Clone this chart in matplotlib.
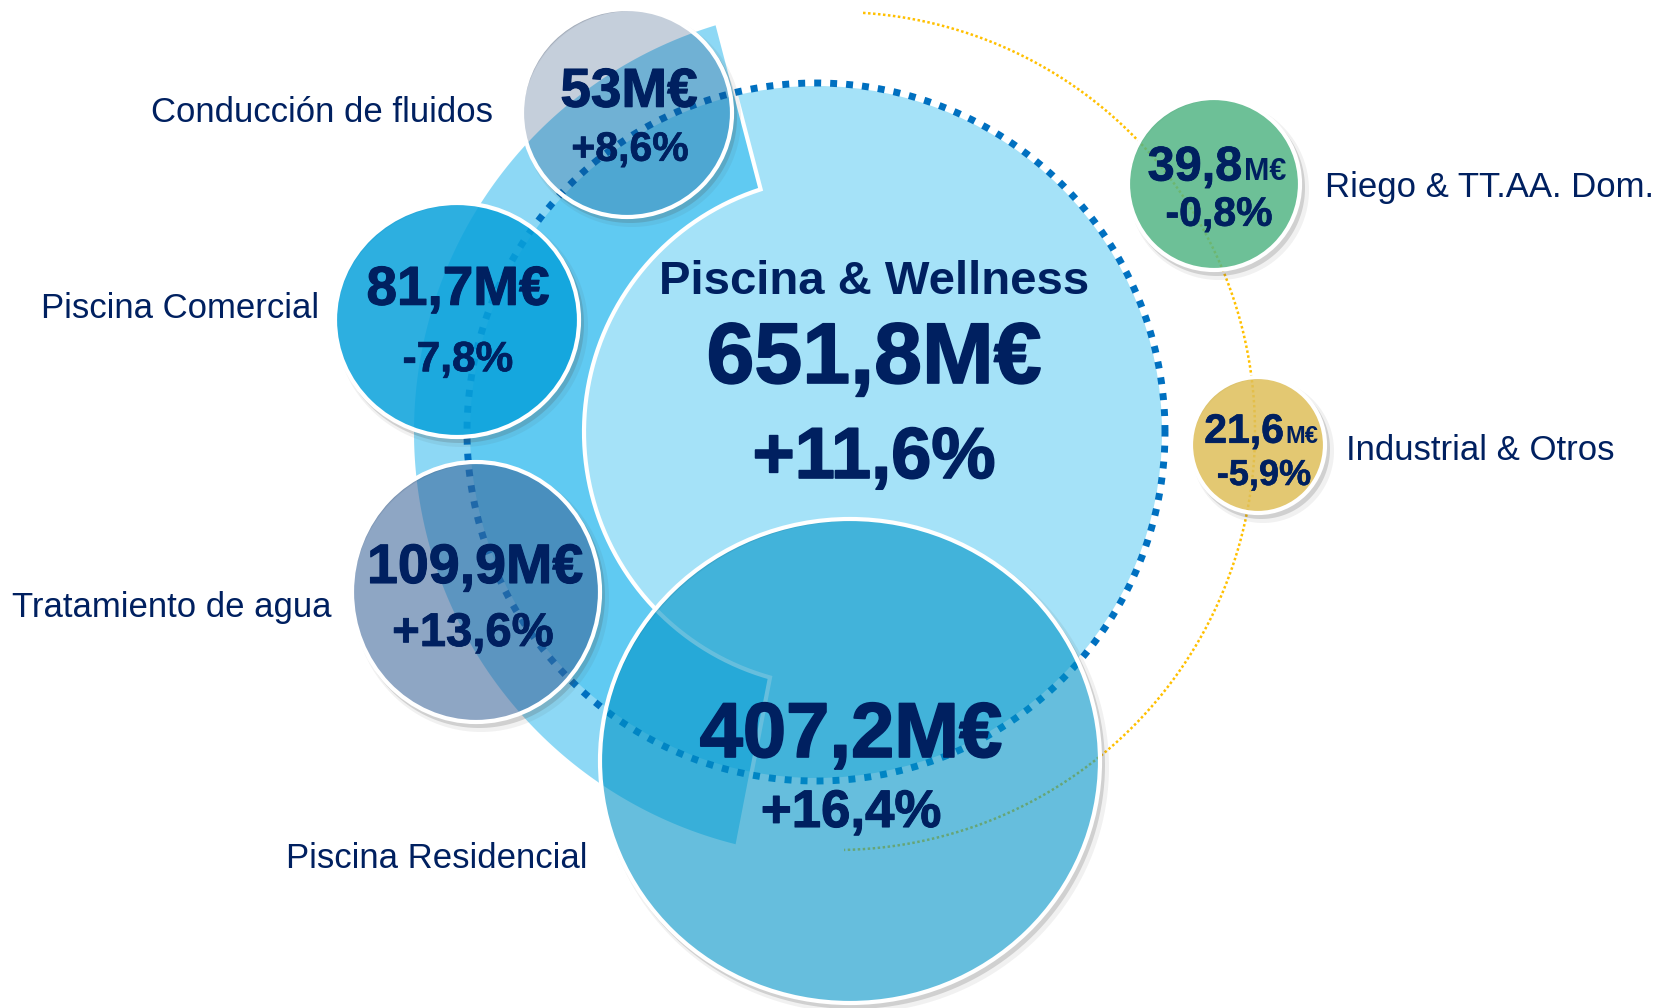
import matplotlib
matplotlib.use("Agg")
import matplotlib.pyplot as plt
import matplotlib.patheffects as pe
import numpy as np
from matplotlib.patches import Circle, Ellipse, Polygon, PathPatch
from matplotlib.path import Path

# Segment data (sales in M€, growth in %)
segments = ["Piscina & Wellness", "Piscina Residencial", "Tratamiento de agua",
            "Piscina Comercial", "Conducción de fluidos",
            "Riego & TT.AA. Dom.", "Industrial & Otros"]
sales = [651.8, 407.2, 109.9, 81.7, 53.0, 39.8, 21.6]
growth = [11.6, 16.4, 13.6, -7.8, 8.6, -0.8, -5.9]

NAVY = "#002060"
FONT = "Liberation Sans"


def fmt_sales(v):
    s = f"{v:.1f}".replace(".", ",")
    return s[:-2] if s.endswith(",0") else s


def fmt_growth(g):
    return f"{g:+.1f}%".replace(".", ",")


def arc(cx, cy, rx, a0, a1, n=400, ry=None):
    # angles in degrees, counter-clockwise on screen (y axis points down)
    ry = rx if ry is None else ry
    t = np.radians(np.linspace(a0, a1, n))
    return cx + rx * np.cos(t), cy - ry * np.sin(t)


def txt(ax, x, yc, s, fs, ha="center", bold=True, stroke=0.0, z=10):
    # yc is the visual middle of the capitals, converted to a baseline
    effects = None
    if stroke > 0:
        effects = [pe.withStroke(linewidth=stroke, foreground=NAVY)]
    ax.text(x, yc + 0.36 * fs / 0.72, s, fontsize=fs, ha=ha, va="baseline",
            color=NAVY, fontweight="bold" if bold else "normal",
            family=FONT, zorder=z, path_effects=effects)


def shadow(ax, cx, cy, rx, ry, z):
    # crescent shaped soft shadow at the lower right of a bubble
    for dx, dy, dr, a in [(5, 6, 4, 0.08), (3, 4, 2, 0.2)]:
        xo, yo = arc(cx + dx, cy + dy, rx + dr, 0, 360, 200, ry + dr)
        xi, yi = arc(cx, cy, rx, 360, 0, 200, ry)
        verts = np.concatenate([np.column_stack([xo, yo]),
                                np.column_stack([xi, yi])])
        codes = ([Path.MOVETO] + [Path.LINETO] * 198 + [Path.CLOSEPOLY]) * 2
        ax.add_patch(PathPatch(Path(verts, codes), fc=(0.3, 0.3, 0.3, a),
                               ec="none", zorder=z))


fig = plt.figure(figsize=(16.55, 10.08), dpi=100)
ax = fig.add_axes([0, 0, 1, 1])
ax.set_xlim(0, 1655)
ax.set_ylim(1008, 0)
ax.axis("off")

# Main light circle with dotted ring
ax.add_patch(Circle((816, 432), 346, fc="#A5E2F8", ec="none", zorder=1))

# Band around the main circle
bc = (839, 432)
xo, yo = arc(bc[0], bc[1], 425, 106.6, 256.2)
xi, yi = arc(bc[0], bc[1], 255, 254.3, 107.9)
band = np.column_stack([np.concatenate([xo, xi]), np.concatenate([yo, yi])])
ax.add_patch(Polygon(band, closed=True, fc=(0.11, 0.70, 0.93, 0.5), ec="none",
                     zorder=2))
ex = np.concatenate([[xo[0]], xi[::-1], [xo[-1]]])
ey = np.concatenate([[yo[0]], yi[::-1], [yo[-1]]])
ax.plot(ex, ey, color="white", lw=3, zorder=3, solid_joinstyle="miter")

x, y = arc(816, 432, 349, 0, 360, 800)
ax.plot(x, y, color="#0070C0", lw=5, linestyle=(0, (1, 1.3)),
        dash_capstyle="butt", zorder=4)

x, y = arc(836, 431, 419, 86.3, -88.9)
ax.plot(x, y, color="#FFC000", lw=1.8, linestyle=(0, (1, 1)), zorder=4)

# Bubble layout: centre, radii (x, y), fill colour (rgba), zorder
bubbles = {
    "Piscina Residencial": ((850, 761), (250, 242), (0.0, 0.58, 0.78, 0.6), 8),
    "Tratamiento de agua": ((476, 592), (124, 130), (0.22, 0.39, 0.595, 0.57), 6),
    "Piscina Comercial": ((457, 320), (122, 117), (0.03, 0.63, 0.86, 0.85), 6),
    "Conducción de fluidos": ((627, 113), (105, 104), (0.1, 0.25, 0.45, 0.25), 6),
    "Riego & TT.AA. Dom.": ((1214, 184), (86, 86), (0.33, 0.71, 0.52, 0.85), 6),
    "Industrial & Otros": ((1258, 445), (67, 68), (0.87, 0.75, 0.35, 0.85), 6),
}
for name, ((cx, cy), (rx, ry), fc, z) in bubbles.items():
    shadow(ax, cx, cy, rx, ry, z - 1)
    ax.add_patch(Ellipse((cx, cy), 2 * rx, 2 * ry, fc=fc, ec="white", lw=3,
                         zorder=z))

v = {name: fmt_sales(s) for name, s in zip(segments, sales)}
g = {name: fmt_growth(p) for name, p in zip(segments, growth)}

# Value labels inside bubbles
txt(ax, 874, 277, segments[0], 34)
txt(ax, 874, 352, v[segments[0]] + "M€", 62, stroke=1.2)
txt(ax, 874, 452, g[segments[0]], 52, stroke=1.2)

txt(ax, 851, 729, v["Piscina Residencial"] + "M€", 56, stroke=1.2)
txt(ax, 851, 808, g["Piscina Residencial"], 38, stroke=0.8)

txt(ax, 475, 563, v["Tratamiento de agua"] + "M€", 40, stroke=0.8)
txt(ax, 473, 629, g["Tratamiento de agua"], 34, stroke=0.6)

txt(ax, 458, 285, v["Piscina Comercial"] + "M€", 39.5, stroke=0.8)
txt(ax, 458, 356, g["Piscina Comercial"], 30.5, stroke=0.5)

txt(ax, 629, 87, v["Conducción de fluidos"] + "M€", 39.5, stroke=0.8)
txt(ax, 630, 146, g["Conducción de fluidos"], 29.5, stroke=0.5)

txt(ax, 1242, 163, v["Riego & TT.AA. Dom."], 35, ha="right", stroke=0.6)
txt(ax, 1244, 163 + 0.36 * 35 / 0.72 - 0.36 * 22 / 0.72, "M€", 22, ha="left")
txt(ax, 1219, 211, g["Riego & TT.AA. Dom."], 29.5, stroke=0.5)

txt(ax, 1284, 428, v["Industrial & Otros"], 29.5, ha="right", stroke=0.5)
txt(ax, 1285, 428 + 0.36 * 29.5 / 0.72 - 0.36 * 17 / 0.72, "M€", 17, ha="left")
txt(ax, 1264, 472, g["Industrial & Otros"], 26, stroke=0.4)

# Segment names
names = [("Conducción de fluidos", 493, 110, "right"),
         ("Piscina Comercial", 319, 305, "right"),
         ("Tratamiento de agua", 331, 604, "right"),
         ("Piscina Residencial", 588, 855, "right"),
         ("Riego & TT.AA. Dom.", 1325, 185, "left"),
         ("Industrial & Otros", 1346, 448, "left")]
for name, lx, ly, ha in names:
    txt(ax, lx, ly, name, 25, ha=ha, bold=False)

fig.savefig("out.png", dpi=100, facecolor="white")
